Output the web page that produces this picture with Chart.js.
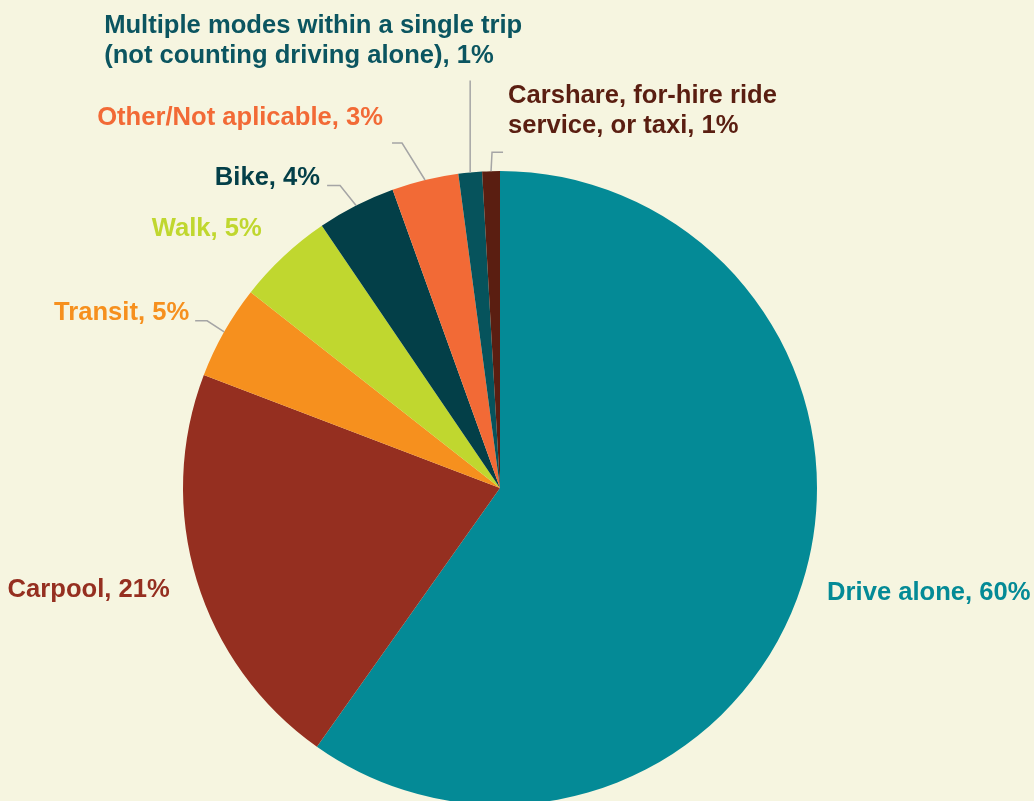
<!DOCTYPE html>
<html>
<head>
<meta charset="utf-8">
<script src="https://cdn.jsdelivr.net/npm/chart.js@4/dist/chart.umd.min.js"></script>
<style>
  html, body { margin: 0; padding: 0; background: #f6f5e0; overflow: hidden; }
  #wrap { width: 1034px; height: 805px; position: relative; }
</style>
</head>
<body>
<div id="wrap"><canvas id="pieChart"></canvas></div>
<script>
// Commute mode share (labels show rounded %)
const categories = [
  "Drive alone",
  "Carpool",
  "Transit",
  "Walk",
  "Bike",
  "Other/Not aplicable",
  "Multiple modes within a single trip\n(not counting driving alone)",
  "Carshare, for-hire ride\nservice, or taxi"
]
const shares = [59.8, 21.0, 4.8, 4.9, 4.0, 3.4, 1.2, 0.9]

const sliceColors = ["#048a96", "#952f20", "#f6901e", "#c0d72f", "#033f48", "#f26a36", "#06535c", "#5a1e11"]
const textColors = ["#048a96", "#952f20", "#f6901e", "#c0d72f", "#033f48", "#f26a36", "#0b5560", "#5a1e11"]

// label placement relative to the outer middle of each slice
const labelStyle = [
  { dx: 25, dy: 9, align: "left" },
  { dx: -27, dy: 10, align: "right" },
  { dx: -35, dy: -19, align: "right", leader: [[-17, -11], [-29, -11]] },
  { dx: -22, dy: -27, align: "right" },
  { dx: -36, dy: -28, align: "right", leader: [[-16, -20], [-29, -20]] },
  { dx: -42, dy: -62, align: "right", leader: [[-23, -37], [-33, -37]] },
  { dx: -366, dy: -146, align: "left", leader: [[0, -92]] },
  { dx: 17, dy: -75, align: "left", leader: [[1, -19], [12, -19]] }
]

const outsideLabels = {
  id: "outsideLabels",
  afterDatasetsDraw(chart) {
    const { ctx } = chart
    const meta = chart.getDatasetMeta(0)
    const values = chart.data.datasets[0].data
    ctx.save()
    meta.data.forEach((arc, i) => {
      const mid = (arc.startAngle + arc.endAngle) / 2
      const px = arc.x + Math.cos(mid) * arc.outerRadius
      const py = arc.y + Math.sin(mid) * arc.outerRadius
      const st = labelStyle[i]

      if (st.leader) {
        ctx.strokeStyle = "#a5a5a5"
        ctx.lineWidth = 1.5
        ctx.beginPath()
        ctx.moveTo(px, py)
        st.leader.forEach(([lx, ly]) => ctx.lineTo(px + lx, py + ly))
        ctx.stroke()
      }

      const lines = (chart.data.labels[i] + ", " + Math.round(values[i]) + "%").split("\n")
      ctx.fillStyle = textColors[i]
      ctx.font = "bold 25.6px 'Liberation Sans', Arial, sans-serif"
      ctx.textAlign = st.align
      ctx.textBaseline = "middle"
      lines.forEach((line, k) => {
        ctx.fillText(line, px + st.dx, py + st.dy + k * 30)
      })
    })
    ctx.restore()
  }
}

new Chart(document.getElementById("pieChart"), {
  type: "pie",
  data: {
    labels: categories,
    datasets: [{
      data: shares,
      backgroundColor: sliceColors,
      borderWidth: 0
    }]
  },
  options: {
    responsive: true,
    maintainAspectRatio: false,
    animation: false,
    layout: {
      padding: { left: 183, right: 217, top: 171, bottom: 0 }
    },
    plugins: {
      legend: { display: false },
      tooltip: { enabled: false }
    }
  },
  plugins: [outsideLabels]
})
</script>
</body>
</html>
